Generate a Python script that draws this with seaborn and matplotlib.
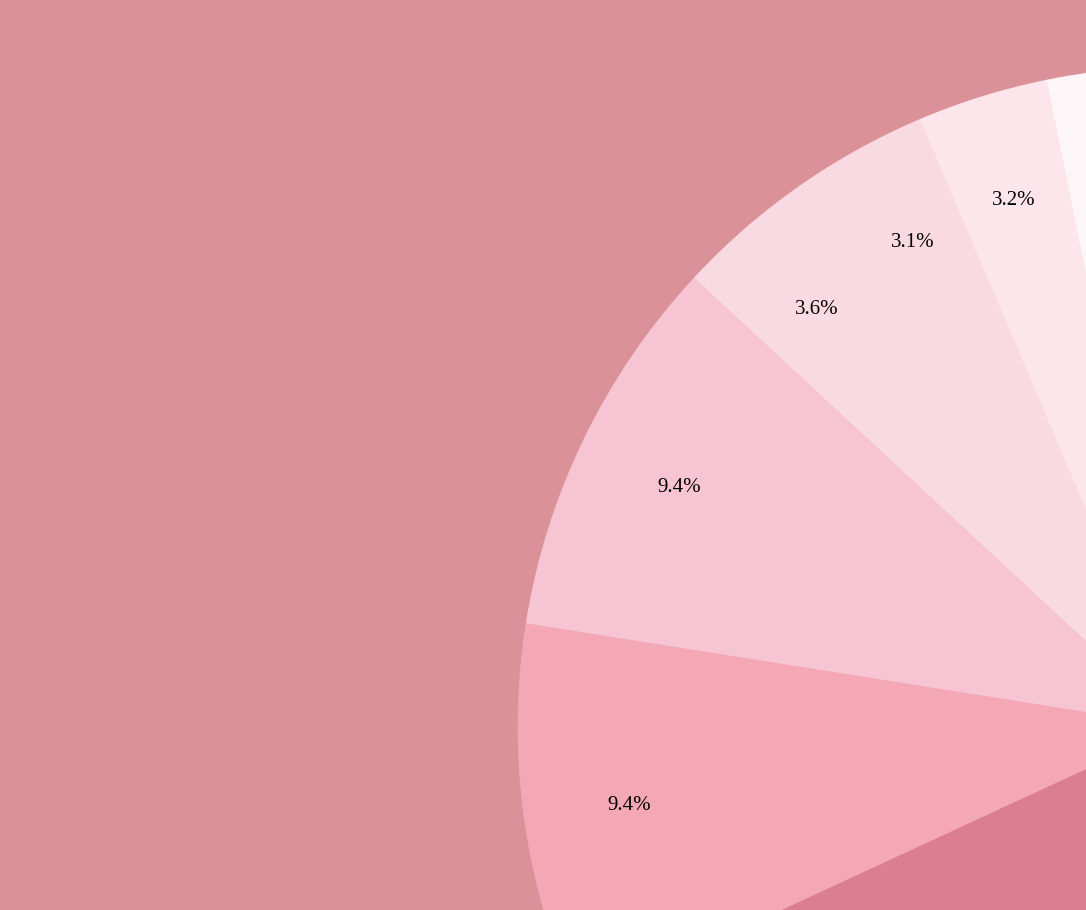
import matplotlib
matplotlib.use("Agg")
import matplotlib.pyplot as plt
import seaborn as sns

# slice shares in percent, counter-clockwise from 12 o'clock
shares = [3.2, 3.2, 3.1, 3.6, 9.4, 9.4, 18.5, 27.3, 22.3]
slice_colors = ["#FDF6F8", "#FCE6EC", "#FADAE2", "#FADAE2", "#F6C4D2",
                "#F4A8B6", "#DC7E92", "#C9647B", "#B34E66"]

BG = "#DA9198"
W, H = 1086, 910
# the pie is bigger than the canvas: centre and radius in pixels
CX, CY, R = 1178, 727, 660

sns.set_theme(style="white")
plt.rcParams['font.family'] = ['Liberation Serif', 'DejaVu Serif']

fig = plt.figure(figsize=(W / 100, H / 100), dpi=100)
fig.patch.set_facecolor(BG)
ax = fig.add_axes([0, 0, 1, 1])
ax.set_facecolor(BG)

wedges, texts, autotexts = ax.pie(
    shares,
    colors=sns.color_palette(slice_colors),
    startangle=90,
    counterclock=True,
    radius=1,
    autopct='%1.1f%%',
    pctdistance=0.84,
    wedgeprops={'linewidth': 0.6},
    textprops={'fontsize': 15, 'color': 'black',
               'verticalalignment': 'center_baseline'},
)
# edge in the slice's own colour hides the anti-alias seams
for w in wedges:
    w.set_edgecolor(w.get_facecolor())

xmin = -CX / R
ymin = -(H - CY) / R
ax.set_xlim(xmin, xmin + W / R)
ax.set_ylim(ymin, ymin + H / R)
ax.set_aspect('auto')
ax.axis('off')

# labels that fall outside the crop are not shown
for t in autotexts:
    x, y = t.get_position()
    if not (xmin < x < xmin + W / R and ymin < y < ymin + H / R):
        t.set_visible(False)

fig.savefig("out.png", dpi=100, facecolor=BG)
